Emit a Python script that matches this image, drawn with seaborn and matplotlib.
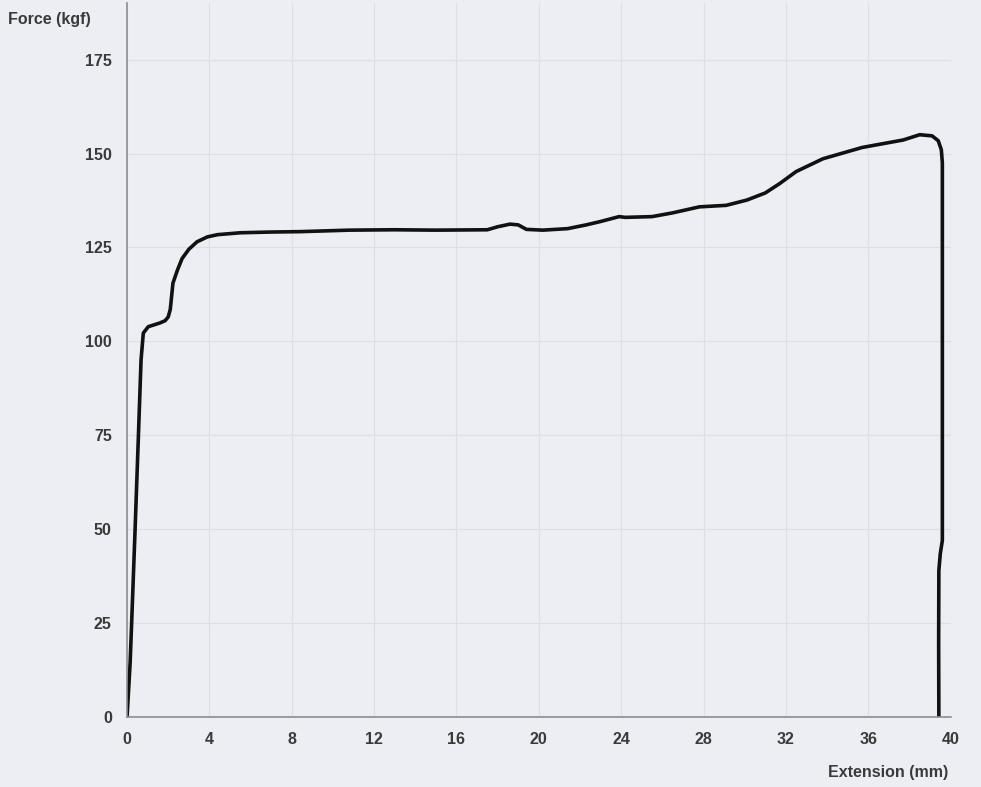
import pandas as pd
import seaborn as sns
import matplotlib.pyplot as plt

# Curva fuerza-extension
extension = [0, 0.15, 0.22, 0.39, 0.55, 0.68, 0.79, 1.03, 1.6, 1.85, 2.0, 2.1, 2.23,
             2.45, 2.67, 3.0, 3.4, 3.9, 4.4, 5.5, 7.0, 8.4, 10.8, 13.0, 15.0, 17.5,
             18.0, 18.6, 19.0, 19.4, 20.2, 21.4, 22.3, 23.0, 23.9, 24.2, 25.5, 26.5,
             27.8, 29.1, 30.1, 31.0, 31.7, 32.5, 33.8, 35.7, 37.7, 38.5, 39.1, 39.4,
             39.55, 39.6, 39.6, 39.6, 39.5, 39.43, 39.42, 39.43]
fuerza = [0, 14.4, 24.5, 49.8, 74.5, 95, 102.2, 103.9, 104.9, 105.5, 106.5, 108.5, 115.5,
          119, 122, 124.5, 126.5, 127.8, 128.4, 128.9, 129.1, 129.2, 129.6, 129.7, 129.6, 129.7,
          130.5, 131.2, 131.0, 129.8, 129.6, 130.0, 131.0, 131.9, 133.2, 133.0, 133.2, 134.2,
          135.8, 136.2, 137.6, 139.5, 142.0, 145.2, 148.6, 151.6, 153.6, 155.0, 154.7, 153.4,
          151.0, 147.5, 100, 47, 43.5, 39, 20, 0]

x_ticks = list(range(0, 41, 4))
y_ticks = list(range(0, 176, 25))

data = pd.DataFrame({'Extension': extension, 'Force': fuerza})

sns.set_style('white')
plt.rcParams['font.family'] = ['Liberation Sans', 'DejaVu Sans']

papel = '#eceef3'
fig = plt.figure(figsize=(9.81, 7.87), dpi=100, facecolor=papel)
ax = fig.add_axes([0.1295, 0.0889, 0.8395, 0.907])
ax.set_facecolor(papel)

sns.lineplot(data=data, x='Extension', y='Force', sort=False, estimator=None,
             color='#111111', linewidth=2.6, ax=ax)

ax.set_xlim(0, 40)
ax.set_ylim(0, 190)
ax.set_xticks(x_ticks)
ax.set_yticks(y_ticks)
ax.grid(True, color='#dcdfe6', linewidth=0.9)
for lado in ['top', 'right']:
    ax.spines[lado].set_visible(False)
for lado in ['left', 'bottom']:
    ax.spines[lado].set_color('#8a8d93')
    ax.spines[lado].set_linewidth(1.2)
ax.tick_params(axis='both', length=5, width=1, color='#8a8d93', direction='out',
               labelsize=11.5, labelcolor='#3a3a3a', pad=6)
for t in ax.get_xticklabels() + ax.get_yticklabels():
    t.set_fontweight('bold')

ax.set_xlabel('')
ax.set_ylabel('')
fig.text(0.008, 0.975, 'Force (kgf)', fontsize=11.5, fontweight='bold',
         color='#3a3a3a', ha='left', va='center')
fig.text(0.967, 0.019, 'Extension (mm)', fontsize=11.5, fontweight='bold',
         color='#3a3a3a', ha='right', va='center')

fig.savefig('out.png', dpi=100, facecolor=papel)
